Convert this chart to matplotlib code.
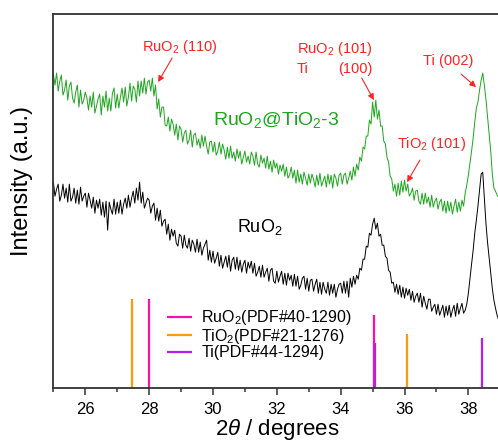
import numpy as np
import matplotlib
matplotlib.use('Agg')
import matplotlib.pyplot as plt

plt.rcParams['font.family'] = ['Liberation Sans', 'DejaVu Sans']
plt.rcParams['mathtext.fontset'] = 'custom'
plt.rcParams['mathtext.rm'] = 'Liberation Sans'
plt.rcParams['mathtext.it'] = 'Liberation Sans:italic'

# 2theta grid, 25.00 .. 39.00 in 0.05 steps
two_theta = np.round(np.arange(25.0, 39.0001, 0.05), 2)

# RuO2@TiO2-3 (green), one row per degree
ruo2_tio2 = [
    314, 303, 315, 297, 307, 313, 293, 298, 308, 288, 302, 306, 290, 285, 296, 303, 281, 298, 284, 288,
    296, 290, 278, 292, 281, 296, 275, 282, 289, 294, 273, 292, 281, 297, 277, 290, 277, 295, 300, 280,
    294, 280, 291, 300, 286, 301, 282, 291, 305, 287, 302, 299, 286, 307, 292, 307, 295, 310, 294, 306,
    308, 297, 310, 292, 303, 279, 289, 271, 281, 281, 263, 262, 271, 257, 269, 264, 253, 264, 248, 262,
    259, 246, 255, 258, 244, 248, 258, 241, 253, 255, 243, 249, 240, 253, 242, 252, 242, 234, 246, 247,
    236, 246, 233, 237, 246, 234, 244, 238, 229, 241, 230, 242, 230, 236, 227, 239, 230, 237, 224, 231,
    237, 226, 232, 224, 236, 232, 223, 236, 224, 221, 233, 225, 230, 220, 232, 219, 227, 216, 228, 220,
    225, 214, 223, 217, 224, 212, 221, 210, 213, 221, 210, 218, 205, 218, 206, 214, 204, 216, 210, 203,
    214, 205, 214, 209, 201, 213, 203, 215, 202, 207, 212, 201, 214, 204, 213, 200, 214, 210, 202, 213,
    215, 204, 213, 215, 204, 210, 217, 208, 221, 212, 224, 218, 231, 227, 241, 239, 252, 252, 268, 264,
    286, 271, 288, 269, 278, 262, 262, 247, 244, 231, 226, 212, 209, 197, 204, 192, 205, 193, 207, 196,
    208, 197, 204, 192, 195, 200, 188, 197, 198, 187, 184, 195, 184, 195, 185, 191, 181, 193, 181, 187,
    190, 179, 186, 189, 177, 187, 175, 187, 177, 186, 174, 182, 189, 176, 186, 177, 188, 182, 195, 203,
    213, 225, 237, 250, 266, 280, 286, 298, 308, 315, 303, 289, 272, 255, 237, 214, 200, 197, 193, 191,
    189,
]

# RuO2 (black)
ruo2 = [
    206, 192, 199, 204, 187, 193, 204, 190, 200, 186, 204, 187, 191, 200, 185, 198, 184, 201, 187, 192,
    195, 181, 195, 188, 180, 191, 175, 188, 180, 189, 173, 186, 171, 187, 158, 186, 179, 174, 189, 174,
    186, 175, 188, 174, 184, 190, 180, 193, 181, 190, 197, 185, 200, 188, 206, 185, 196, 180, 185, 190,
    188, 175, 182, 185, 168, 180, 167, 178, 162, 167, 169, 154, 164, 148, 159, 152, 158, 145, 142, 154,
    152, 140, 153, 143, 140, 150, 137, 148, 144, 136, 149, 136, 146, 133, 140, 144, 148, 128, 138, 126,
    137, 125, 130, 136, 122, 133, 120, 126, 132, 121, 133, 117, 128, 131, 119, 131, 118, 128, 116, 124,
    128, 115, 126, 120, 127, 115, 125, 112, 116, 122, 111, 123, 111, 116, 120, 107, 118, 120, 107, 105,
    117, 106, 112, 117, 104, 115, 103, 115, 108, 113, 102, 114, 102, 112, 99, 103, 110, 112, 99, 110,
    97, 108, 109, 97, 104, 109, 95, 106, 94, 106, 99, 95, 106, 93, 104, 95, 104, 91, 99, 104,
    105, 95, 107, 95, 107, 91, 110, 101, 112, 104, 113, 109, 120, 118, 129, 129, 142, 141, 155, 153,
    164, 170, 159, 165, 152, 154, 143, 143, 132, 130, 118, 116, 105, 106, 96, 104, 94, 103, 91, 101,
    90, 100, 93, 99, 88, 97, 86, 92, 95, 86, 95, 81, 92, 85, 79, 89, 89, 77, 81, 84,
    74, 84, 73, 78, 83, 71, 82, 73, 83, 71, 78, 83, 72, 85, 74, 80, 85, 75, 78, 84,
    95, 110, 124, 138, 155, 168, 182, 198, 214, 216, 190, 165, 146, 131, 115, 100, 88, 80, 73, 68,
    66,
]

# standard reference sticks
ruo2_pdf_pos = [28.01, 35.05]
ruo2_pdf_h = [89, 73]
tio2_pdf_pos = [27.45, 36.08]
tio2_pdf_h = [89, 54]
ti_pdf_pos = [35.09, 38.42]
ti_pdf_h = [45, 50]

green = '#1ea51e'
red = '#ff2222'

fig = plt.figure(figsize=(4.98, 4.42), dpi=100)
ax = fig.add_axes([0.1072, 0.1215, 0.8974, 0.8468])

ax.plot(two_theta, ruo2_tio2, color=green, lw=0.7)
ax.plot(two_theta, ruo2, color='black', lw=0.7)

ax.vlines(ruo2_pdf_pos, 0, ruo2_pdf_h, color='#ff0fa5', lw=1.6,
          label='RuO$_2$(PDF#40-1290)')
ax.vlines(tio2_pdf_pos, 0, tio2_pdf_h, color='#ff9a10', lw=1.6,
          label='TiO$_2$(PDF#21-1276)')
ax.vlines(ti_pdf_pos, 0, ti_pdf_h, color='#b41ef0', lw=1.6,
          label='Ti(PDF#44-1294)')

ax.set_xlim(25, 39)
ax.set_ylim(0, 374)
ax.set_xticks(np.arange(26, 39, 2))
ax.set_xticks(np.arange(25, 40, 1), minor=True)
ax.set_yticks([])
ax.tick_params(axis='x', which='major', direction='out', length=5, width=1.1,
               labelsize=12, pad=5, color='#333333')
ax.tick_params(axis='x', which='minor', direction='out', length=3, width=1.1,
               color='#333333')
for s in ax.spines.values():
    s.set_color('#333333')
    s.set_linewidth(1.3)
ax.spines['right'].set_visible(False)

ax.set_xlabel(r'2$\mathit{\theta}$ / degrees', fontsize=16, labelpad=0)
ax.set_ylabel('Intensity (a.u.)', fontsize=17)
ax.yaxis.set_label_coords(-0.046, 0.553)

ax.legend(loc='upper left', bbox_to_anchor=(0.254, 0.214), frameon=False,
          fontsize=11.5, handlelength=1.6, handletextpad=0.55,
          labelspacing=-0.03, borderpad=0, borderaxespad=0)

# curve labels
ax.text(30.0, 263, 'RuO$_2$@TiO$_2$-3', color=green, fontsize=14,
        ha='left', va='baseline')
ax.text(30.75, 156, 'RuO$_2$', color='black', fontsize=13,
        ha='left', va='baseline')

# peak labels
ax.text(27.77, 337, 'RuO$_2$ (110)', color=red, fontsize=10.5, va='baseline')
ax.text(32.63, 335, 'RuO$_2$ (101)', color=red, fontsize=10.5, va='baseline')
ax.text(32.63, 315, 'Ti', color=red, fontsize=10.5, va='baseline')
ax.text(33.91, 315, '(100)', color=red, fontsize=10.5, va='baseline')
ax.text(36.58, 323, 'Ti (002)', color=red, fontsize=10.5, va='baseline')
ax.text(35.76, 240, 'TiO$_2$ (101)', color=red, fontsize=10.5, va='baseline')

arrow = dict(arrowstyle='-|>', color=red, lw=0.8, mutation_scale=9,
             shrinkA=0, shrinkB=0)
ax.annotate('', xy=(28.28, 306), xytext=(28.72, 330), arrowprops=arrow)
ax.annotate('', xy=(35.04, 288), xytext=(34.66, 310), arrowprops=arrow)
ax.annotate('', xy=(38.24, 301), xytext=(37.77, 314), arrowprops=arrow)
ax.annotate('', xy=(36.08, 206), xytext=(36.48, 228), arrowprops=arrow)

fig.savefig('out.png', dpi=100)
